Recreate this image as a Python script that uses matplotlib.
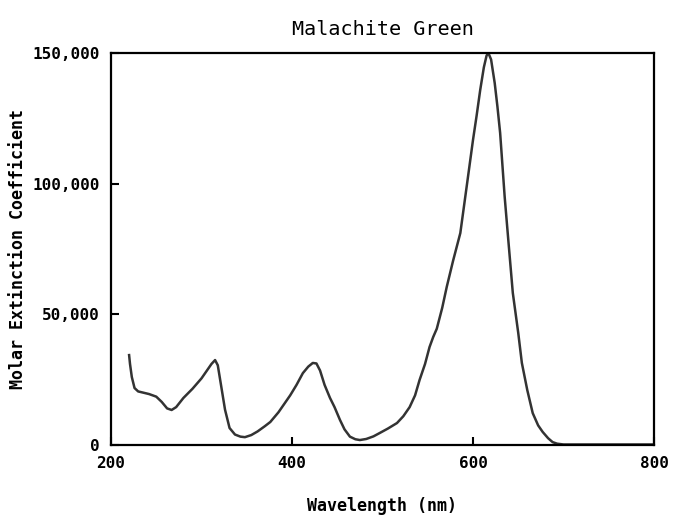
import matplotlib
matplotlib.use("Agg")
import matplotlib.pyplot as plt
from matplotlib.ticker import FuncFormatter

wavelength = [220, 221, 223, 226, 230, 236, 242, 250, 256, 262, 267, 272, 280, 290,
              300, 306, 311, 315, 318, 322, 326, 331, 337, 343, 348, 355, 362, 370,
              376, 385, 392, 398, 405, 412, 418, 423, 427, 431, 436, 442, 447, 453,
              458, 464, 470, 475, 482, 490, 497, 506, 516, 523, 530, 536, 541, 547,
              552, 556, 560, 566, 571, 578, 586, 594, 600, 604, 608, 612, 615, 617,
              620, 624, 627, 630, 635, 639, 644, 650, 654, 660, 666, 672, 677, 683,
              688, 693, 700, 720, 750, 800]
absorbance = [34400, 31000, 26000, 21800, 20500, 20000, 19500, 18500, 16500, 14000,
              13400, 14500, 18000, 21500, 25500, 28500, 31000, 32500, 30500, 22000,
              13500, 6500, 4000, 3200, 3000, 3800, 5200, 7200, 8800, 12500, 16000,
              19000, 23000, 27500, 30000, 31400, 31200, 28500, 23000, 18000, 14500,
              9600, 6000, 3200, 2200, 1900, 2300, 3300, 4600, 6300, 8400, 11000,
              14500, 19000, 24900, 31000, 37500, 41300, 44500, 52500, 60500, 70500,
              81100, 101400, 116700, 126000, 135900, 144500, 149000, 150000, 147500,
              138500, 129500, 119400, 95000, 78500, 58200, 42900, 31400, 21000, 12200,
              7500, 5000, 2600, 1100, 500, 200, 200, 200, 200]

x_ticks = [200, 400, 600, 800]
y_ticks = [0, 50000, 100000, 150000]

fig = plt.figure(figsize=(6.74, 5.16), dpi=100)
ax = fig.add_axes([0.1647, 0.1376, 0.8056, 0.7597])
ax.plot(wavelength, absorbance, color="#333333", lw=1.8)

ax.set_xlim(200, 800)
ax.set_ylim(0, 150000)
ax.set_xticks(x_ticks)
ax.set_yticks(y_ticks)
ax.yaxis.set_major_formatter(FuncFormatter(lambda v, p: f"{int(v):,}"))
ax.tick_params(direction="in", length=6, width=1.5, labelsize=11.5, pad=8,
               top=False, right=False)
for lbl in ax.get_xticklabels() + ax.get_yticklabels():
    lbl.set_fontfamily("DejaVu Sans Mono")
    lbl.set_fontweight("bold")
for s in ax.spines.values():
    s.set_linewidth(1.6)

ax.set_title("Malachite Green", fontfamily="DejaVu Sans Mono", fontsize=14.5, pad=13)
ax.set_xlabel("Wavelength (nm)", fontfamily="DejaVu Sans Mono", fontweight="bold",
              fontsize=12, labelpad=19)
ax.set_ylabel("Molar Extinction Coefficient", fontfamily="DejaVu Sans Mono",
              fontweight="bold", fontsize=12, labelpad=4)

fig.savefig("out.png", dpi=100)
